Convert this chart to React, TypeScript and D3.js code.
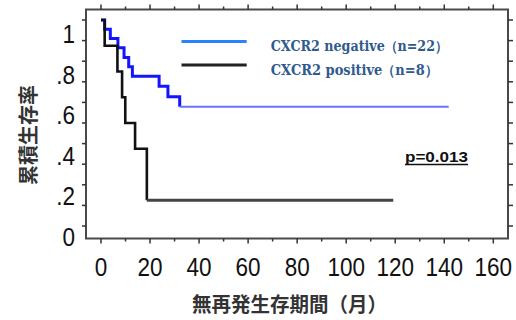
import React from "react";
import * as d3 from "d3";

// ---- data ----
const negTimes = [0, 1.5, 3.8, 6.9, 9.4, 11.3, 12.8, 23.7, 27.3, 32.1];
const negSurv = [1, 0.955, 0.91, 0.865, 0.818, 0.773, 0.727, 0.678, 0.628, 0.579];
const negEnd = 141.8;

const posTimes = [0, 1.5, 6.7, 8.6, 9.9, 13.9, 18.7];
const posSurv = [1, 0.875, 0.75, 0.625, 0.5, 0.375, 0.125];
const posEnd = 119.2;

const xTickValues = [0, 10, 20, 30, 40, 50, 60, 70, 80, 90, 100, 110, 120, 130, 140, 150, 160];
const xTickLabels = [0, 20, 40, 60, 80, 100, 120, 140, 160];
const yTickValues = [0, 0.1, 0.2, 0.3, 0.4, 0.5, 0.6, 0.7, 0.8, 0.9, 1];
const yTickLabels = [0, 0.2, 0.4, 0.6, 0.8, 1];
const yLabelText = ["0", ".2", ".4", ".6", ".8", "1"];

const legendLabels = ["CXCR2 negative（n=22）", "CXCR2 positive（n=8）"];
const pValue = "p=0.013";
const xTitle = "無再発生存期間（月）";
const yTitle = "累積生存率";

export default function App() {
  const W = 516, H = 320;
  const frame = { left: 86, top: 9.5, right: 508, bottom: 238.5 };
  const x = d3.scaleLinear().domain([0, 160]).range([101, 493.3]);
  const y = d3.scaleLinear().domain([0, 1]).range([226, 20]);
  const yLab = d3.scaleLinear().domain([0, 1]).range([237, 34]);

  const line = d3
    .line<[number, number]>()
    .x((d) => x(d[0]))
    .y((d) => y(d[1]))
    .curve(d3.curveStepAfter);

  const negPts = negTimes.map((t, i) => [t, negSurv[i]] as [number, number]);
  const posPts = posTimes.map((t, i) => [t, posSurv[i]] as [number, number]);
  const negLast = negPts[negPts.length - 1];
  const posLast = posPts[posPts.length - 1];
  const tailLine = d3
    .line<[number, number]>()
    .x((d) => x(d[0]))
    .y((d) => y(d[1]));

  const tickFont = "'Liberation Sans', Arial, sans-serif";
  const cjk = "'Noto Sans CJK JP', 'Noto Sans CJK SC', sans-serif";

  return (
    <svg
      width={W}
      height={H}
      style={{ position: "absolute", left: 0, top: 0, background: "#fff" }}
    >
      <rect x={0} y={0} width={W} height={H} fill="#fff" />
      {/* frame */}
      <rect
        x={frame.left}
        y={frame.top}
        width={frame.right - frame.left}
        height={frame.bottom - frame.top}
        fill="none"
        stroke="#4a4a4a"
        strokeWidth={2}
      />
      {/* x ticks top & bottom */}
      {xTickValues.map((v) => {
        const major = v % 20 === 0;
        return (
          <g key={"xt" + v}>
            <line x1={x(v)} x2={x(v)} y1={frame.bottom} y2={frame.bottom + (major ? 5 : 3)} stroke="#333" strokeWidth={1.5} />
            <line x1={x(v)} x2={x(v)} y1={frame.top} y2={frame.top - (major ? 5 : 3)} stroke="#333" strokeWidth={1.5} />
          </g>
        );
      })}
      {/* y ticks left & right */}
      {yTickValues.map((v) => (
        <g key={"yt" + v}>
          <line x1={frame.left} x2={frame.left - 4} y1={y(v)} y2={y(v)} stroke="#333" strokeWidth={1.5} />
          <line x1={frame.right} x2={frame.right + 5} y1={y(v)} y2={y(v)} stroke="#333" strokeWidth={1.5} />
        </g>
      ))}
      {/* x tick labels */}
      {xTickLabels.map((v) => (
        <text
          key={"xl" + v}
          transform={`translate(${x(v)},276) scale(0.9,1)`}
          textAnchor="middle"
          fontFamily={tickFont}
          fontSize={25}
          fill="#111"
        >
          {v}
        </text>
      ))}
      {/* y tick labels */}
      {yTickLabels.map((v, i) => (
        <text
          key={"yl" + v}
          transform={`translate(75,${yLab(v) + 9}) scale(0.9,1)`}
          textAnchor="end"
          fontFamily={tickFont}
          fontSize={25}
          fill="#111"
        >
          {yLabelText[i]}
        </text>
      ))}
      {/* curves */}
      <path d={line(negPts) || ""} fill="none" stroke="#1414ff" strokeWidth={3} />
      <path
        d={tailLine([negLast, [negEnd, negLast[1]]]) || ""}
        fill="none"
        stroke="#6f6fff"
        strokeWidth={2}
      />
      <path d={line(posPts) || ""} fill="none" stroke="#111" strokeWidth={2.6} />
      <path
        d={tailLine([posLast, [posEnd, posLast[1]]]) || ""}
        fill="none"
        stroke="#444"
        strokeWidth={2.8}
      />
      {/* legend */}
      <line x1={181.5} x2={246.7} y1={41.5} y2={41.5} stroke="#2b80ff" strokeWidth={3} />
      <line x1={181.5} x2={246.7} y1={65} y2={65} stroke="#222" strokeWidth={3} />
      <text
        x={270.7}
        y={46}
        dominantBaseline="central"
        fontFamily="'DejaVu Serif', 'Liberation Serif', serif"
        fontWeight="bold"
        fontSize={14}
        fill="#2f5a8e"
        textLength={177}
        lengthAdjust="spacingAndGlyphs"
      >
        {legendLabels[0]}
      </text>
      <text
        x={270.7}
        y={70}
        dominantBaseline="central"
        fontFamily="'DejaVu Serif', 'Liberation Serif', serif"
        fontWeight="bold"
        fontSize={14}
        fill="#2f5a8e"
        textLength={167}
        lengthAdjust="spacingAndGlyphs"
      >
        {legendLabels[1]}
      </text>
      {/* p value */}
      <text
        x={405}
        y={162}
        fontFamily="'Liberation Sans', Arial, sans-serif"
        fontWeight="bold"
        fontSize={15}
        fill="#111"
        textLength={63}
        lengthAdjust="spacingAndGlyphs"
      >
        {pValue}
      </text>
      <line x1={405} x2={468} y1={164.5} y2={164.5} stroke="#111" strokeWidth={1.5} />
      {/* axis titles */}
      <text
        x={289.5}
        y={303}
        textAnchor="middle"
        dominantBaseline="central"
        fontFamily={cjk}
        fontWeight="bold"
        fontSize={20}
        fill="#333"
        textLength={195}
        lengthAdjust="spacingAndGlyphs"
      >
        {xTitle}
      </text>
      <text
        transform="translate(27,135) rotate(-90)"
        textAnchor="middle"
        dominantBaseline="central"
        fontFamily={cjk}
        fontWeight="bold"
        fontSize={20}
        fill="#333"
      >
        {yTitle}
      </text>
    </svg>
  );
}
